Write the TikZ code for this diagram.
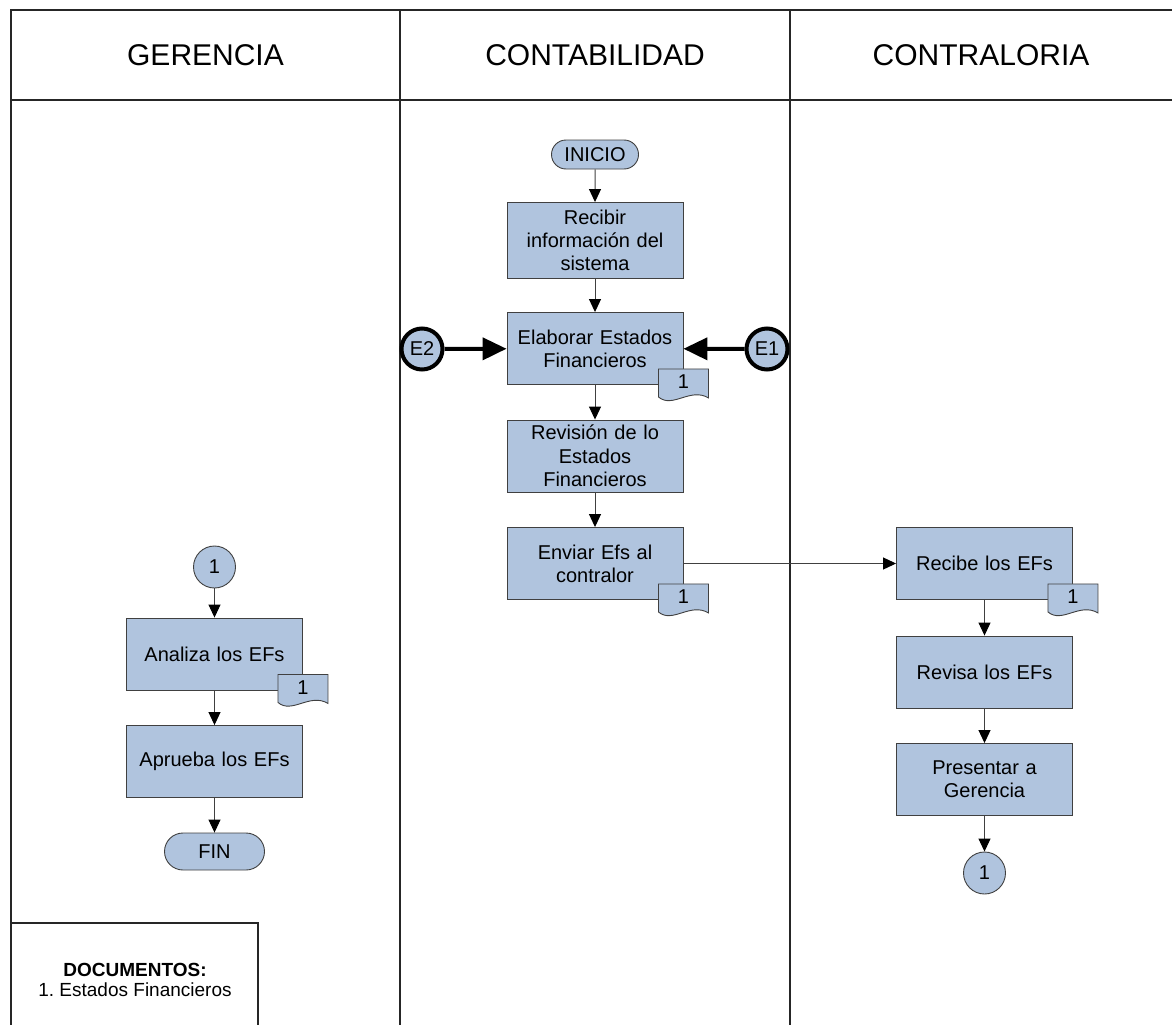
\documentclass[tikz,border=0pt]{standalone}
\usepackage{fontspec}
\setmainfont{Liberation Sans}
\usetikzlibrary{arrows.meta,positioning,calc,shapes.misc}
\definecolor{flowblue}{RGB}{176,196,222}
\definecolor{flowline}{RGB}{64,64,64}

\begin{document}
\begin{tikzpicture}[x=1pt,y=-1pt,
  font=\fontsize{20}{23.3}\selectfont,
  lane/.style={draw=black!85,line width=1.2pt},
  lanehead/.style={font=\fontsize{30}{36}\selectfont},
  task/.style={draw=flowline,fill=flowblue,line width=.9pt,minimum width=176pt,minimum height=72pt,text width=170pt,align=center,inner sep=1pt},
  term/.style={draw=flowline,fill=flowblue,line width=.9pt,rounded rectangle,inner sep=0pt},
  conn/.style={draw=flowline,fill=flowblue,line width=.9pt,circle,minimum size=42pt,inner sep=0pt},
  event/.style={draw=black,fill=flowblue,line width=4pt,circle,minimum size=41pt,inner sep=0pt},
  doctag/.style={draw=flowline,fill=flowblue,line width=.9pt},
  flow/.style={-{Triangle[length=13pt,width=12pt,color=black]},draw=flowline,line width=1pt},
  push/.style={-{Triangle[length=24pt,width=22pt]},draw=black,line width=4pt}]

\useasboundingbox (0,0) rectangle (1172,1025);
% lanes
\draw[lane] (1172,10) -- (11,10) -- (11,1025);
\draw[lane] (11,100) -- (1172,100);
\draw[lane] (400,10) -- (400,1025);
\draw[lane] (790,10) -- (790,1025);
\node[lanehead] (hger) at (205.5,55) {GERENCIA};
\node[lanehead] (hcont) at (595,55) {CONTABILIDAD};
\node[lanehead] (hcontr) at (981,55) {CONTRALORIA};

% contabilidad
\node[term,minimum width=87pt,minimum height=29pt] (inicio) at (595,154.5) {INICIO};
\node[task,minimum height=76pt] (recibir) at (595,240.5) {Recibir\\información del\\sistema};
\node[task] (elaborar) at (595,348.5) {Elaborar Estados\\Financieros};
\node[task] (revision) at (595,456) {Revisión de lo\\Estados\\Financieros};
\node[task] (enviar) at (595,563.5) {Enviar Efs al\\contralor};
\node[event] (e2) at (422,349) {E2};
\node[event] (e1) at (767,349) {E1};

% contraloria
\node[task] (recibe) at (984.5,563.5) {Recibe los EFs};
\node[task] (revisa) at (984.5,672) {Revisa los EFs};
\node[task] (presentar) at (984.5,779.5) {Presentar a\\Gerencia};
\node[conn] (outc) at (984.5,873) {1};

% gerencia
\node[conn] (inc) at (214.5,567) {1};
\node[task] (analiza) at (214.5,654) {Analiza los EFs};
\node[task] (aprueba) at (214.5,761.5) {Aprueba los EFs};
\node[term,minimum width=100pt,minimum height=37pt] (fin) at (214.5,851.5) {FIN};

% document tags
\foreach \b in {elaborar,enviar,recibe,analiza}{
  \coordinate (\b t) at ($(\b.south east)+(0,-16)$);
  \filldraw[doctag] ($(\b t)+(-25,0)$) -- ($(\b t)+(25,0)$) -- ($(\b t)+(25,29)$)
    .. controls ($(\b t)+(7,18)$) and ($(\b t)+(-11,40)$) .. ($(\b t)+(-25,28)$) -- cycle;
  \node (\b n) at ($(\b t)+(0,13)$) {1};
}

\draw[lane] (11,923) -| (258,1025);
\node[align=center,font=\fontsize{19}{20}\selectfont,inner sep=0pt] (docs) at (135,980)
  {\textbf{DOCUMENTOS:}\\1.\ Estados Financieros};

\draw[flow] (inicio) -- (recibir);
\draw[flow] (recibir) -- (elaborar);
\draw[flow] (elaborar) -- (revision);
\draw[flow] (revision) -- (enviar);
\draw[flow] (enviar) -- (recibe);
\draw[flow] (recibe) -- (revisa);
\draw[flow] (revisa) -- (presentar);
\draw[flow] (presentar) -- (outc);
\draw[flow] (inc) -- (analiza);
\draw[flow] (analiza) -- (aprueba);
\draw[flow] (aprueba) -- (fin);
\draw[push] (e2) -- (elaborar);
\draw[push] (e1) -- (elaborar);

\end{tikzpicture}
\end{document}
